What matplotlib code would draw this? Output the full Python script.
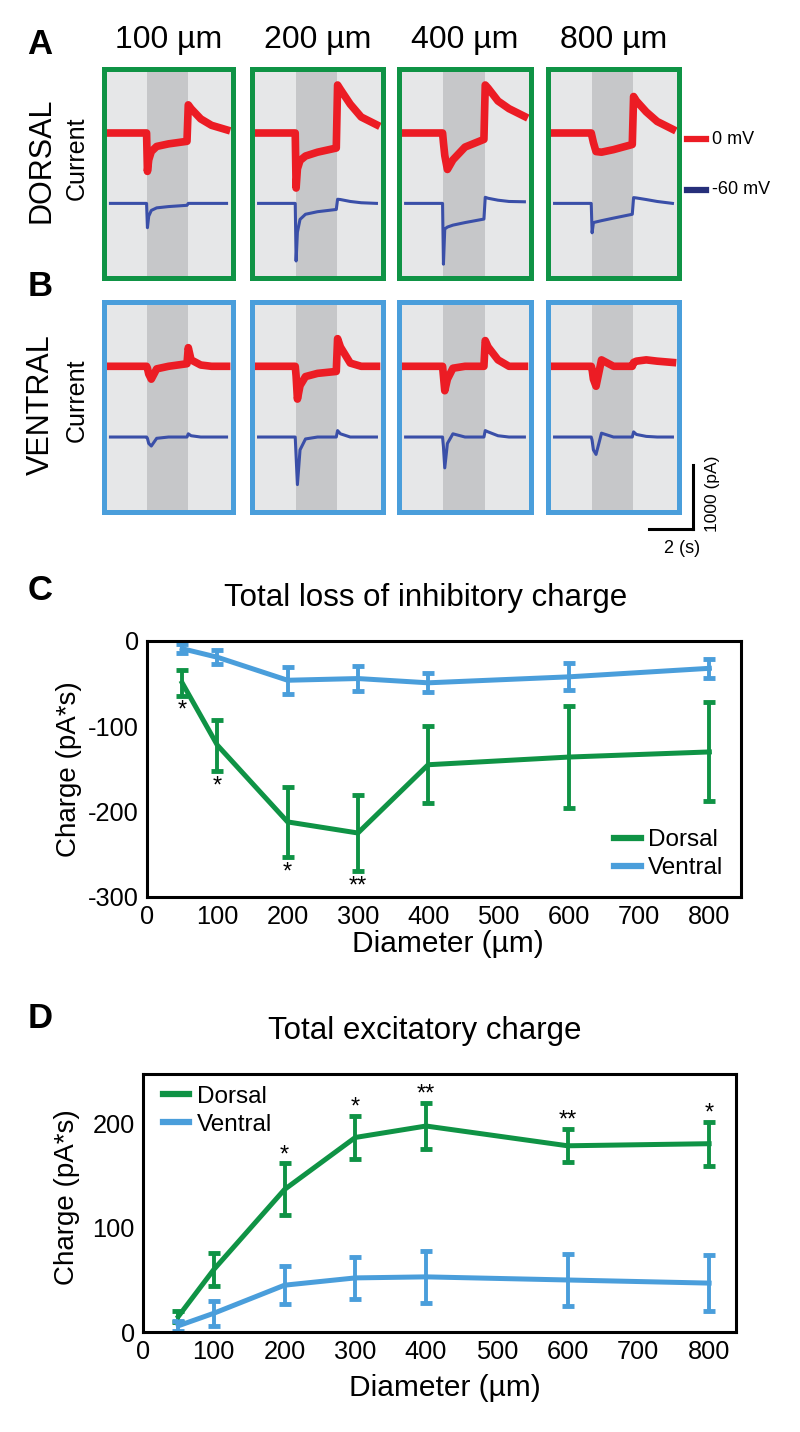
import matplotlib
matplotlib.use("Agg")
import matplotlib.pyplot as plt
from matplotlib.lines import Line2D

plt.rcParams['font.family'] = ['Liberation Sans', 'DejaVu Sans']
plt.rcParams['axes.unicode_minus'] = False

W, H = 800, 1432

# ---- panels A / B : example currents (pA, relative to each trace baseline) ----
columns = ["100 µm", "200 µm", "400 µm", "800 µm"]
stim_on, stim_off = 2.0, 3.9          # seconds
trace_t = [0.3, 1.98, 2.02, 2.08, 2.2, 2.45, 3.0, 3.86, 3.92, 4.05, 4.5, 5.0, 5.7]

dorsal_0mv = [
    [0, 0, -600, -420, -290, -210, -170, -130, 440, 380, 220, 120, 50],
    [0, 0, -860, -560, -430, -360, -300, -235, 750, 680, 450, 250, 130],
    [0, 0, -150, -350, -570, -420, -220, -100, 750, 700, 500, 380, 260],
    [0, 0, -60, -150, -290, -300, -260, -180, 570, 500, 330, 180, 60],
]
dorsal_60mv = [
    [0, 0, -380, -200, -110, -70, -50, -30, 0, 0, 0, 0, 0],
    [0, 0, -900, -450, -250, -170, -130, -95, 65, 60, 30, 10, 0],
    [0, 0, -950, -400, -370, -340, -300, -245, 95, 80, 50, 30, 25],
    [0, 0, -460, -300, -290, -270, -230, -170, 90, 85, 60, 30, 0],
]
ventral_0mv = [
    [0, 0, -30, -120, -200, -40, 0, 40, 290, 100, 20, 0, 0],
    [0, 0, -150, -510, -300, -160, -110, -80, 430, 300, 50, 0, 0],
    [0, 0, -150, -380, -200, -30, 0, 0, 400, 300, 100, 0, 0],
    [0, 0, -50, -200, -310, 100, 0, 0, 60, 80, 100, 80, 60],
]
ventral_60mv = [
    [0, 0, -20, -100, -140, -20, 0, 0, 50, 20, 0, 0, 0],
    [0, 0, -300, -740, -200, -30, 0, 0, 100, 50, 0, 0, 0],
    [0, 0, -150, -480, -100, 50, 0, 0, 100, 80, 20, 0, 0],
    [0, 0, -50, -200, -270, 60, 0, 0, 80, 40, 10, 0, 0],
]
blue_offset = -1100   # display offset of the -60 mV trace

# ---- panel C : total loss of inhibitory charge ----
diam = [50, 100, 200, 300, 400, 600, 800]
inh_dorsal = [-49, -122, -212, -225, -145, -136, -130]
inh_dorsal_err = [15, 30, 41, 45, 45, 60, 58]
inh_ventral = [-9, -19, -46, -44, -49, -42, -32]
inh_ventral_err = [5, 8, 16, 15, 11, 16, 11]
inh_stars = ["*", "*", "*", "**", "", "", ""]

# ---- panel D : total excitatory charge ----
exc_dorsal = [15, 60, 137, 187, 198, 179, 181]
exc_dorsal_err = [5, 16, 25, 21, 22, 16, 21]
exc_ventral = [6, 18, 45, 52, 53, 50, 47]
exc_ventral_err = [5, 12, 18, 20, 25, 25, 27]
exc_stars = ["", "", "*", "*", "**", "**", "*"]

GREEN = '#0f9345'
BLUE = '#4a9edb'
RED_TR = '#ec1c24'
BLUE_TR = '#3a4fa8'


def fx(x):
    return x / W


def fy(y):
    return 1 - y / H


def box_axes(x0, x1, y0, y1):
    return fig.add_axes([fx(x0), fy(y1), (x1 - x0) / W, (y1 - y0) / H])


def draw_box(ax, red, blue, frame):
    ax.set_xlim(0, 6)
    ax.set_ylim(-2266, 1000)
    ax.set_facecolor('#e6e7e8')
    ax.axvspan(stim_on, stim_off, color='#c6c7c9', lw=0)
    ax.plot(trace_t, red, color=RED_TR, lw=5.5)
    ax.plot(trace_t, [v + blue_offset for v in blue], color=BLUE_TR, lw=2.2)
    for s in ax.spines.values():
        s.set_color(frame)
        s.set_linewidth(3.6)
    ax.set_xticks([])
    ax.set_yticks([])


fig = plt.figure(figsize=(8, 14.32), dpi=100)

box_x = [(104, 233), (252, 383), (399, 531), (548, 679)]
last_b = None
for i, (x0, x1) in enumerate(box_x):
    axA = box_axes(x0, x1, 69, 278)
    draw_box(axA, dorsal_0mv[i], dorsal_60mv[i], GREEN)
    axB = box_axes(x0, x1, 302, 512)
    draw_box(axB, ventral_0mv[i], ventral_60mv[i], BLUE)
    last_b = axB
    fig.text(fx((x0 + x1) / 2), fy(40), columns[i], ha='center', va='center', fontsize=23)

# scale bar: 2 s x 1000 pA, drawn in data units of the last ventral box
last_b.plot([4.64, 6.64], [-2530, -2530], color='black', lw=2.2, clip_on=False)
last_b.plot([6.64, 6.64], [-2530, -1530], color='black', lw=2.2, clip_on=False)
fig.text(fx(682), fy(548), "2 (s)", ha='center', va='center', fontsize=13)
fig.text(fx(712), fy(494), "1000 (pA)", ha='center', va='center', fontsize=12.5, rotation=90)

# trace legend
for yy, col, lab in [(139, RED_TR, "0 mV"), (190, '#262f7a', "-60 mV")]:
    fig.add_artist(Line2D([fx(687), fx(706)], [fy(yy), fy(yy)], color=col, lw=4.5,
                          transform=fig.transFigure))
    fig.text(fx(712), fy(yy), lab, ha='left', va='center', fontsize=13)

# row labels
fig.text(fx(41), fy(160), "DORSAL", rotation=90, ha='center', va='center', fontsize=22)
fig.text(fx(77), fy(158), "Current", rotation=90, ha='center', va='center', fontsize=18)
fig.text(fx(41), fy(405), "VENTRAL", rotation=90, ha='center', va='center', fontsize=22)
fig.text(fx(77), fy(400), "Current", rotation=90, ha='center', va='center', fontsize=18)

# panel letters
for lab, yy in [("A", 44), ("B", 286), ("C", 591), ("D", 1019)]:
    fig.text(fx(40), fy(yy), lab, ha='center', va='center', fontsize=25, fontweight='bold')


def charge_axes(ax, xlim, ylim, yticks):
    ax.set_xlim(*xlim)
    ax.set_ylim(*ylim)
    ax.set_xticks(range(0, 801, 100))
    ax.set_yticks(yticks)
    ax.tick_params(length=0, labelsize=18.3, pad=6)
    for s in ax.spines.values():
        s.set_linewidth(2.2)


def plot_series(ax, y, err, color):
    ax.errorbar(diam, y, yerr=err, color=color, lw=3.6, elinewidth=2.8,
                capsize=4, capthick=3.5)


handles = [Line2D([], [], color=GREEN, lw=4.5), Line2D([], [], color=BLUE, lw=4.5)]
leg_kw = dict(frameon=False, fontsize=17.5, handlelength=1.1, handletextpad=0.3,
              labelspacing=0.25, borderaxespad=0, bbox_transform=None)

# ---- C ----
axC = box_axes(147, 741, 641, 897)
charge_axes(axC, (0, 845), (-300, 0), [-300, -200, -100, 0])
plot_series(axC, inh_dorsal, inh_dorsal_err, GREEN)
plot_series(axC, inh_ventral, inh_ventral_err, BLUE)
for x, m, e, s in zip(diam, inh_dorsal, inh_dorsal_err, inh_stars):
    if s:
        axC.text(x, m - e - 18, s, ha='center', va='center', fontsize=17)
fig.text(fx(426), fy(598), "Total loss of inhibitory charge", ha='center', va='center', fontsize=22.5)
fig.text(fx(448), fy(944), "Diameter (µm)", ha='center', va='center', fontsize=21.5)
fig.text(fx(69), fy(769), "Charge (pA*s)", rotation=90, ha='center', va='center', fontsize=20)
axC.legend(handles, ["Dorsal", "Ventral"], loc='lower right',
           bbox_to_anchor=(fx(733), fy(889)), bbox_transform=fig.transFigure,
           **{k: v for k, v in leg_kw.items() if k != 'bbox_transform'})

# ---- D ----
axD = box_axes(143, 736, 1074, 1332)
charge_axes(axD, (0, 838), (0, 248), [0, 100, 200])
plot_series(axD, exc_dorsal, exc_dorsal_err, GREEN)
plot_series(axD, exc_ventral, exc_ventral_err, BLUE)
for x, m, e, s in zip(diam, exc_dorsal, exc_dorsal_err, exc_stars):
    if s:
        axD.text(x, m + e + 8, s, ha='center', va='center', fontsize=17)
fig.text(fx(425), fy(1031), "Total excitatory charge", ha='center', va='center', fontsize=22.5)
fig.text(fx(445), fy(1388), "Diameter (µm)", ha='center', va='center', fontsize=21.5)
fig.text(fx(67), fy(1197), "Charge (pA*s)", rotation=90, ha='center', va='center', fontsize=20)
axD.legend(handles, ["Dorsal", "Ventral"], loc='upper left',
           bbox_to_anchor=(fx(153), fy(1076)), bbox_transform=fig.transFigure,
           **{k: v for k, v in leg_kw.items() if k != 'bbox_transform'})

fig.savefig("out.png", dpi=100)
